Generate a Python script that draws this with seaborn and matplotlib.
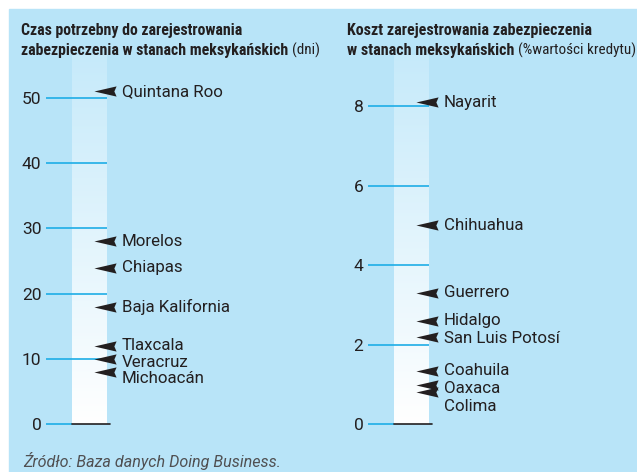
import numpy as np
import matplotlib
matplotlib.use("Agg")
import matplotlib.pyplot as plt
import seaborn as sns
from matplotlib.path import Path
from matplotlib.colors import LinearSegmentedColormap
from matplotlib.patches import Rectangle
from matplotlib import font_manager

# ---------------- data ----------------
days_states = ["Quintana Roo", "Morelos", "Chiapas", "Baja Kalifornia",
               "Tlaxcala", "Veracruz", "Michoacán"]
days_values = [51, 28, 24, 18, 12, 10, 8]
days_ticks = [0, 10, 20, 30, 40, 50]

cost_states = ["Nayarit", "Chihuahua", "Guerrero", "Hidalgo",
               "San Luis Potosí", "Coahuila", "Oaxaca", "Colima"]
cost_values = [8.1, 5.0, 3.3, 2.6, 2.2, 1.35, 1.0, 0.8]
cost_ticks = [0, 2, 4, 6, 8]

left_title = ["Czas potrzebny do zarejestrowania",
              "zabezpieczenia w stanach meksykańskich"]
left_unit = "(dni)"
right_title = ["Koszt zarejestrowania zabezpieczenia",
               "w stanach meksykańskich"]
right_unit = "(%wartości kredytu)"
source = "Źródło: Baza danych Doing Business."

# ---------------- style ----------------
sns.set_theme(style="white")
entries = font_manager.fontManager.ttflist
names = {f.name for f in entries}

TFAM, TSTRETCH = None, "normal"
for cand in ["Roboto Condensed", "Liberation Sans Narrow", "Open Sans Condensed",
             "Noto Sans Condensed"]:
    if cand in names:
        TFAM = cand
        break
if TFAM is None:
    if any(f.name == "DejaVu Sans" and str(f.stretch) in ("condensed", "semi-condensed")
           and f.weight in ("bold", 700) for f in entries):
        TFAM, TSTRETCH = "DejaVu Sans", "condensed"
    elif "Roboto" in names:
        TFAM = "Roboto"
    else:
        TFAM = "DejaVu Sans"

LFAM = "Roboto" if "Roboto" in names else "Liberation Sans"
IFAM = LFAM if any(f.name == LFAM and f.style == "italic" for f in entries) else "Liberation Sans"
plt.rcParams["font.family"] = [LFAM, "DejaVu Sans"]

BG = "#B8E4F8"
CYAN = "#1EADE6"
DARK = "#231F20"
GREY = "#505052"

W, H = 637, 472
fig = plt.figure(figsize=(W / 100, H / 100), dpi=100)
fig.patch.set_facecolor("white")
fig.patches.append(Rectangle((9 / W, 0), 1 - 9 / W, 1 - 9 / H,
                             transform=fig.transFigure, color=BG, zorder=-10))

renderer = fig.canvas.get_renderer()


def fit(t, target):
    w = t.get_window_extent(renderer).width
    t.set_fontsize(t.get_fontsize() * target / w)
    return t.get_fontsize()


probe = fig.text(0, 0, "Baja Kalifornia", fontsize=12, family=[LFAM, "DejaVu Sans"])
LBL = fit(probe, 109)
probe.remove()

cmap = LinearSegmentedColormap.from_list("col", ["#FFFFFF", "#C6EAFA"])

dart = Path([(-1, 0), (1, 0.46), (0.8, 0), (1, -0.46), (-1, 0)],
            [Path.MOVETO, Path.LINETO, Path.LINETO, Path.LINETO, Path.CLOSEPOLY])


def cascade(vals, upx, gap_px):
    out = []
    prev = None
    for v in vals:
        y = v
        if prev is not None and prev - y < gap_px / upx:
            y = prev - gap_px / upx
        out.append(y)
        prev = y
    return out


def panel(x0, x1, ytop, y0px, upx, states, values, ticks, gap):
    ax = fig.add_axes([x0 / W, 1 - y0px / H, (x1 - x0) / W, (y0px - ytop) / H])
    top = (y0px - ytop) / upx
    ax.set_facecolor("none")
    for s in ax.spines.values():
        s.set_visible(False)
    ax.imshow(np.linspace(0, 1, 256).reshape(-1, 1), extent=[0, 1, 0, top],
              origin="lower", aspect="auto", cmap=cmap, zorder=0)
    sns.scatterplot(x=np.full(len(values), 0.94), y=values, marker=dart, s=255,
                    color=DARK, edgecolor=DARK, linewidth=0, ax=ax,
                    legend=False, clip_on=False, zorder=4)
    ax.set_xlim(0, 1)
    ax.set_ylim(0, top)
    ax.set_xlabel("")
    ax.set_ylabel("")
    ax.set_xticks([])
    ax.set_yticks(ticks)
    ax.set_yticklabels([str(t) for t in ticks])
    ax.tick_params(axis="y", left=True, length=19, width=1.2, color=CYAN,
                   pad=3, labelsize=LBL * 1.03, labelcolor=DARK)
    for tv in ticks[1:]:
        ax.axhline(tv, color=CYAN, lw=1.2, zorder=2)
    ax.axhline(0, xmin=0, xmax=1.08, color=DARK, lw=1.2, zorder=2, clip_on=False)
    ax.yaxis.get_major_ticks()[0].tick1line.set_color(DARK)

    ly = cascade(values, upx, gap)
    tr = ax.get_yaxis_transform()
    for name, y in zip(states, ly):
        ax.text(1.43, y, name, transform=tr, fontsize=LBL, color=DARK,
                va="center", ha="left", clip_on=False)
    return ax


panel(72, 107, 55, 424, 6.52, days_states, days_values, days_ticks, 16.5)
panel(394, 429, 55, 424.3, 39.79, cost_states, cost_values, cost_ticks, 18)


def title(x, lines, unit, w1):
    kw = dict(family=[TFAM, "DejaVu Sans"], fontstretch=TSTRETCH,
              fontweight="bold", color=DARK, va="baseline", ha="left")
    t1 = fig.text(x / W, 1 - 35 / H, lines[0], fontsize=11, **kw)
    sz = fit(t1, w1)
    t2 = fig.text(x / W, 1 - 54.5 / H, lines[1], fontsize=sz, **kw)
    bb = t2.get_window_extent(renderer)
    fig.text(bb.x1 / W + 4 / W, 1 - 54.5 / H, unit, color=DARK, va="baseline",
             ha="left", fontsize=sz * 0.95, family=[TFAM, "DejaVu Sans"],
             fontstretch=TSTRETCH)


title(21, left_title, left_unit, 222)
title(347, right_title, right_unit, 244)

st = fig.text(23 / W, 1 - 467 / H, source, style="italic", color=GREY,
              va="baseline", ha="left", fontsize=11, family=[IFAM, "DejaVu Sans"])
fit(st, 258)

fig.savefig("out.png", dpi=100, facecolor="white")
